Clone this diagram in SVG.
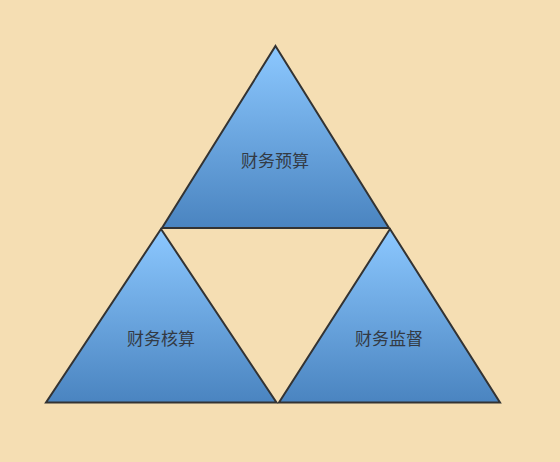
<svg xmlns="http://www.w3.org/2000/svg" width="560" height="462" viewBox="0 0 560 462">
<defs>
<linearGradient id="g" x1="0" y1="0" x2="0" y2="1">
<stop offset="0" stop-color="#8CC8FF"/>
<stop offset="1" stop-color="#4A84C0"/>
</linearGradient>
<style>
.tri{fill:url(#g);stroke:#333333;stroke-width:2;stroke-linejoin:miter}
.lbl{font-family:"Noto Sans CJK SC","Noto Sans",sans-serif;font-size:17px;fill:#333A44;text-anchor:middle;dominant-baseline:central}
</style>
</defs>
<rect width="560" height="462" fill="#F5DEB3"/>
<g id="connectors"></g>
<g id="budget">
<polygon class="tri" points="275.5,46 389,228 162,228"/>
<text class="lbl" x="275" y="159">财务预算</text>
</g>
<g id="accounting">
<polygon class="tri" points="161,229 276.5,402.5 46,402.5"/>
<text class="lbl" x="161" y="337">财务核算</text>
</g>
<g id="supervision">
<polygon class="tri" points="390,229 500,402.5 279,402.5"/>
<text class="lbl" x="389" y="337">财务监督</text>
</g>
</svg>
